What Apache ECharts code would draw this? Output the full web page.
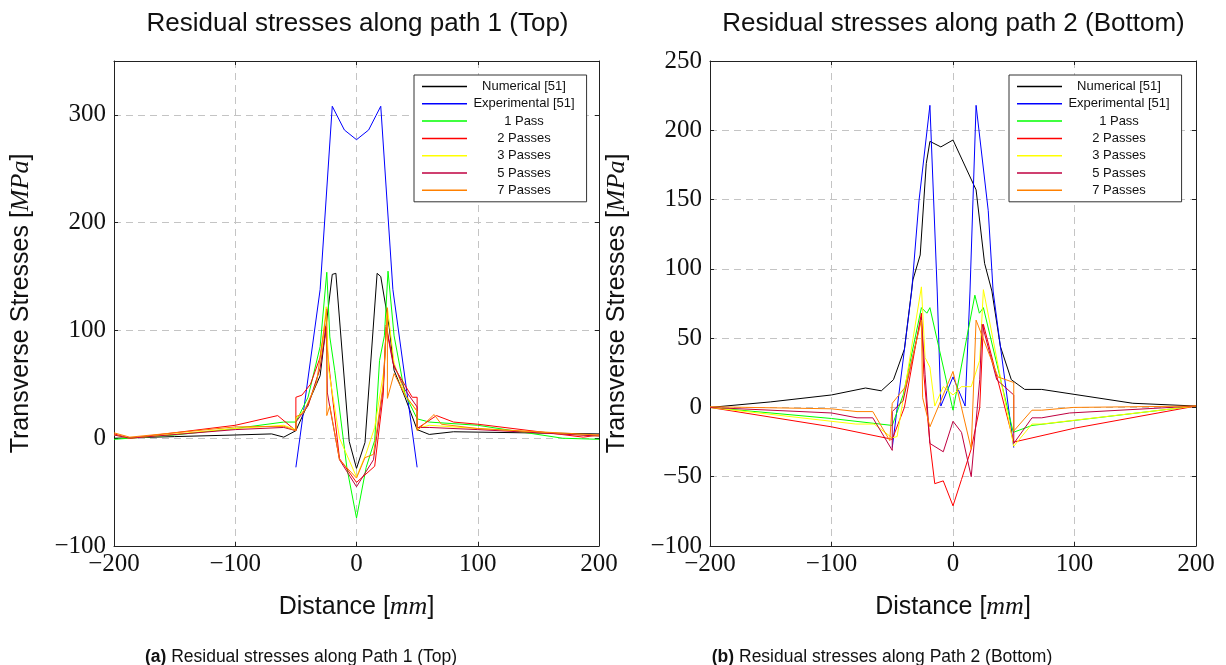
<!DOCTYPE html>
<html>
<head>
<meta charset="utf-8">
<script src="https://cdn.jsdelivr.net/npm/echarts@6/dist/echarts.min.js"></script>
<style>
  html, body { margin: 0; padding: 0; background: #fff; }
  #chart { width: 1226px; height: 665px; }
</style>
</head>
<body>
<div id="chart"></div>
<script>
// ---- Path 1 (Top): distance [mm] and transverse stress [MPa] ----
const p1NumX = [-200, -150, -100, -70, -60, -50, -40, -30, -20, -17, -6, 0, 7, 17, 20, 27, 31, 40, 50, 60, 80, 200];
const p1NumY = [0, 1.5, 3, 4, 1, 7, 32, 58, 152, 153, -3, -28, -4, 153, 150, 103, 63, 38, 8, 3.5, 6, 4];

const p1ExpX = [-50, -30, -20, -10, 0, 10, 20, 30, 50];
const p1ExpY = [-27, 138, 308, 286, 277, 286, 308, 138, -27];

const p1P1X = [-200, -150, -100, -60, -50, -40, -30, -24.5, -22, -18, -8, 0, 8, 15, 19, 23, 26, 31, 40, 50, 60, 100, 170, 200];
const p1P1Y = [-1, 3, 9, 15, 15, 38, 85, 154, 94, 63, -27, -74, -27, -2, 72, 95, 155, 95, 41, 18, 15, 12, 0, -1];

const p1P2X = [-200, -187, -100, -65, -50, -50, -45, -38, -30, -26, -22, -14, 0, 15, 22, 24.5, 31, 46, 50, 50, 66, 80, 100, 187, 200];
const p1P2Y = [4, 0, 12, 21, 7, 38, 40, 50, 75, 104, 60, -19, -41, -26, 40, 105, 66, 38, 38, 9, 21, 15, 13, 1, 3];

const p1P3X = [-200, -187, -100, -60, -50, -50, -40, -30, -25, -23, -14, 0, 8, 15, 23, 25.5, 31, 40, 50, 50, 60, 100, 200];
const p1P3Y = [3, 0, 9, 12, 8, 18, 30, 65, 122, 64, 0, -36, -14, 10, 66, 121, 70, 40, 25, 9, 12, 9, 2];

const p1P5X = [-200, -187, -100, -60, -50, -50, -40, -30, -25, -24, -22, -14, 0, 14, 22, 24.5, 30, 40, 50, 50, 60, 100, 200];
const p1P5Y = [3, 0, 8, 10, 7, 15, 30, 65, 103, 42, 29, -20, -45, -20, 46, 103, 70, 45, 29, 10, 10, 8, 2];

const p1P7X = [-200, -187, -100, -60, -50, -50, -44, -33, -24.5, -24.5, -22, -14, 0, 7, 14, 22, 25.5, 25.5, 31, 40, 50, 50, 64, 70, 100, 200];
const p1P7Y = [5, 1, 10.5, 11, 7, 20, 23, 51, 120, 21, 30, -20, -37, -18, -15, 50, 121, 37, 60, 40, 25, 7, 22, 13, 9, 3];

// ---- Path 2 (Bottom) ----
const p2NumX = [-200, -150, -100, -72, -59, -49, -40, -33, -27, -22, -19, -10, 0, 19, 26, 32, 39, 48, 59, 73, 148, 200];
const p2NumY = [0, 4, 9, 14, 12, 20, 42, 92, 110, 176, 192, 188, 193, 157, 104, 84, 44, 20, 13, 13, 3, 1];

const p2ExpX = [-50, -34, -28, -19, -13, -10, 0, 10, 14, 19, 29, 33, 50];
const p2ExpY = [-29, 84, 149, 218, 84, 1, 22, 1, 84, 218, 142, 84, -29];

const p2P1X = [-200, -100, -50, -41, -26, -21.5, -19, 0, 18, 21.7, 25, 49.6, 65, 200];
const p2P1Y = [0, -8, -13, 9, 72, 68, 72, -2, 81, 68, 72, -18, -13, 1];

const p2P2X = [-200, -100, -50, -40, -26, -24, -19, -15, -8, 0, 7, 15, 22, 25, 50, 100, 200];
const p2P2Y = [0, -14, -23, 0, 68, 24, -26, -55, -53, -71, -52, -30, 0, 60, -25, -15, 1];

const p2P3X = [-200, -80, -65, -50, -46, -26, -23, -19, -15, -8, 0, 7, 15, 22, 25, 50, 65, 73, 200];
const p2P3Y = [0, -12, -12, -22, -21, 87, 36, 29, 1, 15, 9, 15, 15, 34, 85, -28, -12, -12, 1];

const p2P5X = [-200, -100, -79, -66, -50, -50, -41, -26, -23, -19, -8, 0, 7, 15, 22, 24, 36, 50, 50, 65, 73, 96, 200];
const p2P5Y = [0, -4, -7.5, -7.5, -31, -3, 5, 65, 24, -26, -32, -10, -18, -50, 20, 60, 20, 9, -26, -7.5, -7.5, -4, 1];

const p2P7X = [-200, -100, -79, -66, -52, -50, -39, -26, -25, -19, 0, 15, 19, 37, 50, 50, 65, 73, 99, 200];
const p2P7Y = [0.5, -1, -3, -3, -24, 3, 15, 63, 7, -14, 26, -30, 63, 22, 18, -17, -2, -2, 0, 1];

const seriesNames = ['Numerical [51]', 'Experimental [51]', '1 Pass', '2 Passes', '3 Passes', '5 Passes', '7 Passes'];
const seriesColors = ['#000000', '#0000ff', '#00ff00', '#ff0000', '#ffff00', '#bf0040', '#ff8000'];

const path1 = [[p1NumX, p1NumY], [p1ExpX, p1ExpY], [p1P1X, p1P1Y], [p1P2X, p1P2Y], [p1P3X, p1P3Y], [p1P5X, p1P5Y], [p1P7X, p1P7Y]];
const path2 = [[p2NumX, p2NumY], [p2ExpX, p2ExpY], [p2P1X, p2P1Y], [p2P2X, p2P2Y], [p2P3X, p2P3Y], [p2P5X, p2P5Y], [p2P7X, p2P7Y]];

const SANS = '"Liberation Sans", Arial, Helvetica, sans-serif';
const SERIF = '"Liberation Serif", "Times New Roman", serif';
const minus = v => String(v).replace('-', '\u2212');

function makeSeries(sets, axisIndex) {
  return sets.map(([xs, ys], i) => ({
    name: seriesNames[i],
    type: 'line',
    xAxisIndex: axisIndex,
    yAxisIndex: axisIndex,
    data: xs.map((x, k) => [x, ys[k]]),
    symbol: 'none',
    lineStyle: { color: seriesColors[i], width: 1 },
    itemStyle: { color: seriesColors[i] },
    z: 3 + i
  }));
}

const gridLine = { show: true, lineStyle: { color: '#c4c4c4', width: 1, type: [7, 5] } };
const tickIn = { show: true, inside: true, length: 4, lineStyle: { color: '#222' } };
const frame = { show: true, onZero: false, lineStyle: { color: '#222', width: 1 } };

const axisTitleRich = {
  s: { fontFamily: SANS, fontSize: 25, color: '#111' },
  m: { fontFamily: SERIF, fontStyle: 'italic', fontSize: 26, color: '#111' }
};

function xAxes(gridIndex) {
  return [
    {
      type: 'value', gridIndex, position: 'bottom', min: -200, max: 200, interval: 100,
      axisLine: frame, axisTick: tickIn, splitLine: gridLine,
      axisLabel: { fontFamily: SERIF, fontSize: 25, color: '#111', margin: 6, formatter: minus },
      name: '{s|Distance [}{m|mm}{s|]}', nameLocation: 'middle', nameGap: 48,
      nameTextStyle: { rich: axisTitleRich }
    },
    {
      type: 'value', gridIndex, position: 'top', min: -200, max: 200, interval: 100,
      axisLine: frame, axisTick: tickIn, splitLine: { show: false }, axisLabel: { show: false }
    }
  ];
}

function yAxes(gridIndex, min, max, interval, gap) {
  return [
    {
      type: 'value', gridIndex, position: 'left', min, max, interval,
      axisLine: frame, axisTick: tickIn, splitLine: gridLine,
      axisLabel: {
        fontFamily: SERIF, fontSize: 25, color: '#111', margin: 8,
        formatter: v => (v % interval === 0 ? minus(v) : '')
      },
      name: '{s|Transverse Stresses [}{m|MPa}{s|]}', nameLocation: 'middle', nameRotate: 90, nameGap: gap,
      nameTextStyle: { rich: axisTitleRich }
    },
    {
      type: 'value', gridIndex, position: 'right', min, max, interval,
      axisLine: frame, axisTick: tickIn, splitLine: { show: false }, axisLabel: { show: false }
    }
  ];
}

function legendAt(left, top) {
  return {
    left, top, orient: 'vertical',
    data: seriesNames,
    icon: 'rect', itemWidth: 45, itemHeight: 1.5, itemGap: 4.3,
    padding: [5, 12, 5, 8],
    backgroundColor: '#fff', borderColor: '#333', borderWidth: 1,
    selectedMode: false,
    formatter: n => '{c|' + n + '}',
    textStyle: { rich: { c: { width: 104, align: 'center', fontFamily: SANS, fontSize: 13, color: '#111' } } }
  };
}

const captionRich = {
  b: { fontFamily: SANS, fontSize: 17.5, fontWeight: 'bold', color: '#111' },
  n: { fontFamily: SANS, fontSize: 17.5, fontWeight: 'normal', color: '#111' }
};
const titleStyle = { fontFamily: SANS, fontSize: 26, fontWeight: 'normal', color: '#111' };

const chart = echarts.init(document.getElementById('chart'), null, { renderer: 'canvas' });

chart.setOption({
  animation: false,
  backgroundColor: '#fff',
  title: [
    { text: 'Residual stresses along path 1 (Top)', left: 352.5, top: 6, textAlign: 'center', textStyle: titleStyle },
    { text: 'Residual stresses along path 2 (Bottom)', left: 948.5, top: 6, textAlign: 'center', textStyle: titleStyle },
    { text: '{b|(a)}{n| Residual stresses along Path 1 (Top)}', left: 296, top: 643, textAlign: 'center',
      textStyle: { fontWeight: 'normal', rich: captionRich } },
    { text: '{b|(b)}{n| Residual stresses along Path 2 (Bottom)}', left: 877, top: 643, textAlign: 'center',
      textStyle: { fontWeight: 'normal', rich: captionRich } }
  ],
  grid: [
    { left: 114, top: 61, width: 485, height: 485, show: false },
    { left: 710, top: 61, width: 486, height: 485, show: false }
  ],
  xAxis: [...xAxes(0), ...xAxes(1)],
  yAxis: [...yAxes(0, -100, 350, 100, 80), ...yAxes(1, -100, 250, 50, 80)],
  legend: [legendAt(414, 75), legendAt(1009, 75)],
  series: [...makeSeries(path1, 0), ...makeSeries(path2, 2)]
});
</script>
</body>
</html>
